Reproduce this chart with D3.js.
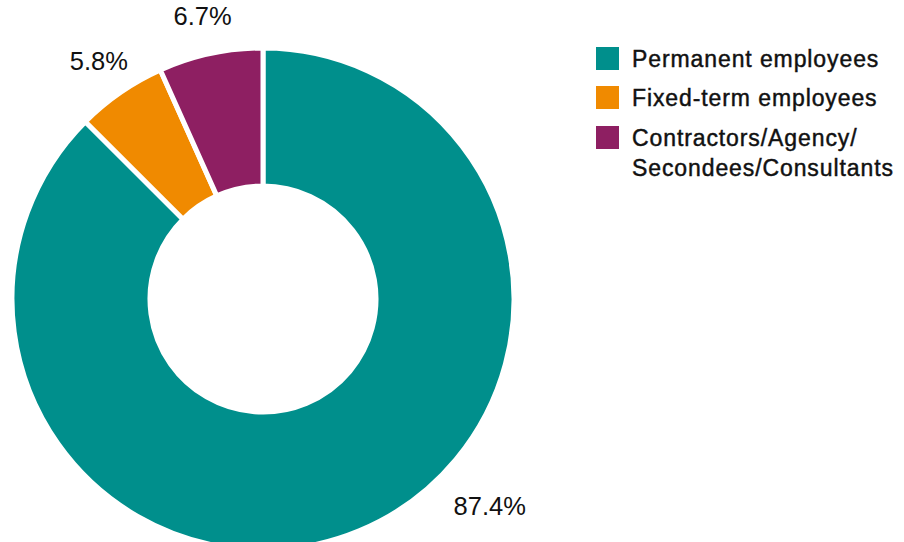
<!DOCTYPE html>
<html>
<head>
<meta charset="utf-8">
<script src="https://cdn.jsdelivr.net/npm/d3@7"></script>
<style>
  body { margin: 0; background: #fff; }
  svg { display: block; }
  .lbl { font-family: "Liberation Sans", Arial, sans-serif; font-size: 25.5px; fill: #111; }
  .leg { font-family: "Liberation Sans", Arial, sans-serif; font-size: 23px; letter-spacing: 0.9px; fill: #111; stroke: #111; stroke-width: 0.45px; }
</style>
</head>
<body>
<div id="chart"></div>
<script>
var categories = ["Permanent employees", "Fixed-term employees", "Contractors/Agency/\nSecondees/Consultants"];
var values = [87.4, 5.8, 6.7];
var labels = ["87.4%", "5.8%", "6.7%"];
var colors = ["#008f8c", "#f08a00", "#8e1f62"];

var width = 904, height = 542;
var cx = 263, cy = 299, outerR = 251, innerR = 113;

var svg = d3.select("#chart").append("svg")
    .attr("width", width)
    .attr("height", height);

var data = categories.map(function(c, i) {
  return {name: c, value: values[i], label: labels[i], color: colors[i]};
});

var pie = d3.pie().sort(null).value(function(d) { return d.value; });
var arc = d3.arc().innerRadius(innerR).outerRadius(outerR);

var g = svg.append("g").attr("transform", "translate(" + cx + "," + cy + ")");

var arcs = pie(data);

g.selectAll("path")
  .data(arcs)
  .enter().append("path")
  .attr("d", arc)
  .attr("fill", function(d) { return d.data.color; })
  .attr("stroke", "#fff")
  .attr("stroke-width", 5)
  .attr("stroke-linejoin", "miter");

// labels: small slices at their middle angle, the big one placed lower right
var labelR = 289;
g.selectAll("text.lbl")
  .data(arcs)
  .enter().append("text")
  .attr("class", "lbl")
  .attr("text-anchor", "middle")
  .attr("dy", "0.35em")
  .attr("transform", function(d, i) {
    var a = i === 0 ? 132.4 * Math.PI / 180 : (d.startAngle + d.endAngle) / 2;
    var r = i === 0 ? 307 : labelR;
    return "translate(" + (r * Math.sin(a)) + "," + (-r * Math.cos(a)) + ")";
  })
  .text(function(d) { return d.data.label; });

// legend
var legend = svg.append("g").attr("transform", "translate(596,47)");
var rowY = [0, 39, 79];

var items = legend.selectAll("g")
  .data(data)
  .enter().append("g")
  .attr("transform", function(d, i) { return "translate(0," + rowY[i] + ")"; });

items.append("rect")
  .attr("width", 23)
  .attr("height", 23)
  .attr("fill", function(d) { return d.color; });

items.append("text")
  .attr("class", "leg")
  .attr("x", 36)
  .attr("y", 19.5)
  .selectAll("tspan")
  .data(function(d) { return d.name.split("\n"); })
  .enter().append("tspan")
  .attr("x", 36)
  .attr("dy", function(d, i) { return i === 0 ? 0 : 30; })
  .text(function(d) { return d; });
</script>
</body>
</html>
